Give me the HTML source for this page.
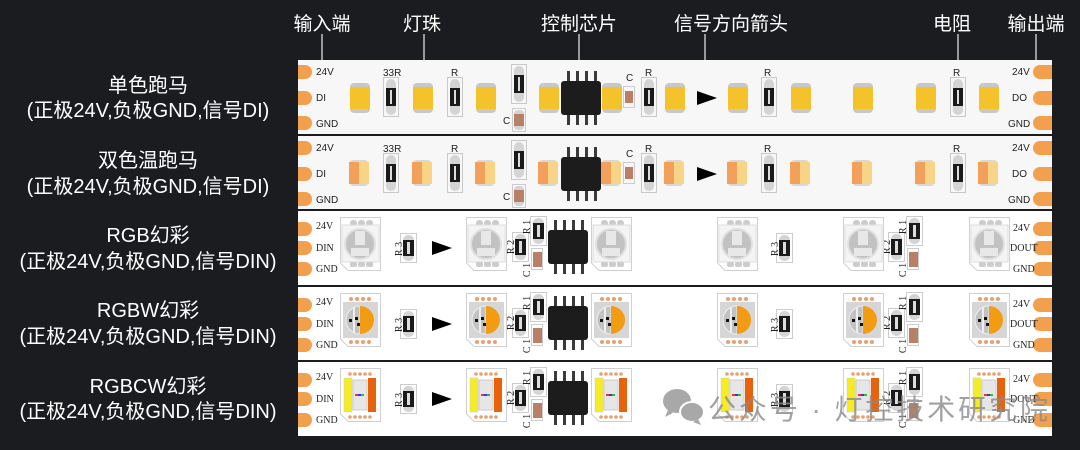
<!DOCTYPE html>
<html><head><meta charset="utf-8"><style>
html,body{margin:0;padding:0;background:#1b1c20;}
svg{display:block}
.lab{font-family:"Liberation Sans","Noto Sans CJK SC",sans-serif;fill:#fff;}
.sm{font-family:"Liberation Sans",sans-serif;font-size:10px;fill:#222;}
.ser{font-family:"Liberation Serif",serif;font-size:10px;fill:#222;}
</style></head><body>
<svg width="1080" height="450" viewBox="0 0 1080 450" xmlns="http://www.w3.org/2000/svg">
<defs>
 <g id="ledY"><rect width="20" height="30" rx="4" fill="#c8c8c8"/><rect y="4" width="20" height="22" fill="#f4c22b"/></g>
 <g id="ledW"><rect x="1" y="2" width="18" height="26" rx="3" fill="#d8d8d8"/><rect y="4" width="10" height="22" fill="#f2a05a"/><rect x="10" y="4" width="10" height="22" fill="#f8d486"/></g>
 <g id="res"><rect x="0.5" y="0.5" width="15" height="39" fill="none" stroke="#c8c8c8"/><rect x="3" y="2" width="10" height="36" rx="5" fill="#d4d4d4"/><rect x="3" y="11" width="10" height="18" fill="#1a1a1a"/><rect x="7" y="13" width="2" height="14" fill="#ddd"/></g>
 <g id="cap"><rect x="0.5" y="0.5" width="13" height="23" fill="none" stroke="#ccc"/><rect x="2" y="2" width="10" height="20" rx="4" fill="#d4d4d4"/><rect x="2" y="6" width="10" height="12" fill="#b98068"/></g>
 <g id="capS"><rect x="0.5" y="0.5" width="11" height="21" fill="none" stroke="#ccc"/><rect x="2" y="5" width="8" height="12" fill="#b98068"/></g>
 <g id="ic"><rect x="6" y="0" width="3" height="54" fill="#3a3a3a"/><rect x="15" y="0" width="3" height="54" fill="#3a3a3a"/><rect x="24" y="0" width="3" height="54" fill="#3a3a3a"/><rect x="33" y="0" width="3" height="54" fill="#3a3a3a"/><rect x="0" y="10" width="40" height="34" rx="3" fill="#1c1c1c"/></g>
 <g id="rs"><rect x="0.5" y="0.5" width="16" height="29" fill="none" stroke="#ccc"/><rect x="3" y="2" width="11" height="26" rx="5" fill="#d4d4d4"/><rect x="3" y="7" width="11" height="16" fill="#1a1a1a"/><rect x="7" y="9" width="3" height="12" fill="#ddd"/></g>
 <g id="pkg"><path d="M0.5 0.5H40.5V53.5H8L0.5 46Z" fill="#fff" stroke="#d0d0d0"/></g>
 <g id="rgb"><use href="#pkg"/><rect x="10" y="3" width="7" height="6" rx="3" fill="#ccc"/><rect x="18" y="3" width="7" height="6" rx="3" fill="#ccc"/><rect x="26" y="3" width="7" height="6" rx="3" fill="#ccc"/><rect x="2" y="8" width="37" height="37" fill="#f4f4f4" stroke="#ddd"/><circle cx="20" cy="27" r="15" fill="#c2c2c2" stroke="#e0e0e0" stroke-width="2"/><rect x="15" y="14" width="10" height="14" fill="#e8e8e8"/><rect x="11" y="31" width="18" height="8" fill="#e8e8e8"/><rect x="10" y="45" width="7" height="5" rx="2" fill="#ccc"/><rect x="18" y="45" width="7" height="5" rx="2" fill="#ccc"/><rect x="26" y="45" width="7" height="5" rx="2" fill="#ccc"/></g>
 <g id="rgbw"><use href="#pkg"/><g fill="#e8a070"><circle cx="11" cy="6" r="2"/><circle cx="17" cy="6" r="2"/><circle cx="23" cy="6" r="2"/><circle cx="29" cy="6" r="2"/><circle cx="11" cy="49" r="2"/><circle cx="17" cy="49" r="2"/><circle cx="23" cy="49" r="2"/><circle cx="29" cy="49" r="2"/></g><rect x="3" y="9" width="35" height="36" fill="#d6d6d6"/><path d="M20 13A14 14 0 0 0 20 41Z" fill="#c2c2c2" stroke="#eee"/><path d="M20 13A14 14 0 0 1 20 41Z" fill="#f29c14"/><rect x="13" y="14" width="2" height="26" fill="#eee"/><rect x="9" y="26" width="3" height="3" fill="#111"/><rect x="15" y="24" width="3" height="3" fill="#111"/><rect x="17" y="30" width="3" height="3" fill="#111"/></g>
 <g id="rgbcw"><use href="#pkg"/><g fill="#e8a070"><circle cx="10" cy="6" r="1.8"/><circle cx="15" cy="6" r="1.8"/><circle cx="20" cy="6" r="1.8"/><circle cx="25" cy="6" r="1.8"/><circle cx="30" cy="6" r="1.8"/><circle cx="10" cy="49" r="1.8"/><circle cx="15" cy="49" r="1.8"/><circle cx="20" cy="49" r="1.8"/><circle cx="25" cy="49" r="1.8"/><circle cx="30" cy="49" r="1.8"/></g><rect x="4" y="10" width="8" height="34" fill="#f6ec24" stroke="#ccc" stroke-width=".5"/><rect x="28" y="10" width="8" height="34" fill="#e8620c"/><rect x="13" y="12" width="14" height="30" fill="#e6e6e6" stroke="#ccc"/><rect x="15" y="26" width="3" height="2" fill="#e33"/><rect x="18" y="26" width="3" height="2" fill="#33f"/><rect x="21" y="26" width="3" height="2" fill="#3b3"/></g>
 <path id="arr" d="M0 0L20 7L0 14Z" fill="#000"/>
 <path id="padL" d="M0 0H7A7 7 0 0 1 7 14H0Z" fill="#f2a04e"/>
 <path id="padR" d="M19 0H7A7 7 0 0 0 7 14H19Z" fill="#f2a04e"/>
</defs>

<g class="lab" font-size="19">
<text x="322" y="30" text-anchor="middle">输入端</text>
<text x="422" y="30" text-anchor="middle">灯珠</text>
<text x="579" y="30" text-anchor="middle">控制芯片</text>
<text x="731" y="30" text-anchor="middle">信号方向箭头</text>
<text x="952" y="30" text-anchor="middle">电阻</text>
<text x="1036" y="30" text-anchor="middle">输出端</text>
</g>
<g stroke="#999" stroke-width="2" fill="#999">
<line x1="322" y1="34" x2="322" y2="65"/><circle cx="322" cy="66" r="3"/>
<line x1="424" y1="34" x2="424" y2="65"/><circle cx="424" cy="66" r="3"/>
<line x1="579" y1="34" x2="579" y2="65"/><circle cx="579" cy="66" r="3"/>
<line x1="705" y1="34" x2="705" y2="65"/><circle cx="705" cy="66" r="3"/>
<line x1="958" y1="34" x2="958" y2="65"/><circle cx="958" cy="66" r="3"/>
<line x1="1036" y1="34" x2="1036" y2="65"/><circle cx="1036" cy="66" r="3"/>
</g>

<g class="lab" font-size="20" text-anchor="middle">
<text x="148" y="92">单色跑马</text><text x="148" y="117">(正极24V,负极GND,信号DI)</text>
<text x="148" y="167">双色温跑马</text><text x="148" y="193">(正极24V,负极GND,信号DI)</text>
<text x="148" y="242">RGB幻彩</text><text x="148" y="268">(正极24V,负极GND,信号DIN)</text>
<text x="148" y="317">RGBW幻彩</text><text x="148" y="343">(正极24V,负极GND,信号DIN)</text>
<text x="148" y="393">RGBCW幻彩</text><text x="148" y="418">(正极24V,负极GND,信号DIN)</text>
</g>

<rect x="298" y="60" width="754" height="74" fill="#f6f7f6"/>
<rect x="298" y="136" width="754" height="73" fill="#f6f7f6"/>
<rect x="298" y="211" width="754" height="74" fill="#fff"/>
<rect x="298" y="287" width="754" height="73" fill="#fff"/>
<rect x="298" y="362" width="754" height="74" fill="#fff"/>

<g id="s1">
<use href="#padL" x="298" y="65"/><use href="#padL" x="298" y="91"/><use href="#padL" x="298" y="116"/>
<text class="sm" x="316" y="75">24V</text><text class="sm" x="316" y="101">DI</text><text class="sm" x="316" y="127">GND</text>
<use href="#padR" x="1033" y="65"/><use href="#padR" x="1033" y="91"/><use href="#padR" x="1033" y="116"/>
<text class="sm" x="1012" y="75">24V</text><text class="sm" x="1012" y="101">DO</text><text class="sm" x="1008" y="127">GND</text>
<text class="sm" x="383" y="76">33R</text><use href="#res" x="383" y="77"/>
<text class="sm" x="451" y="76">R</text><use href="#res" x="447" y="77"/>
<use href="#res" x="511" y="64"/><use href="#cap" x="512" y="108"/><text class="sm" x="503" y="124">C</text>
<use href="#ic" x="561" y="71"/>
<text class="sm" x="626" y="81">C</text><use href="#capS" x="623" y="86"/>
<text class="sm" x="645" y="76">R</text><use href="#res" x="641" y="77"/>
<use href="#arr" x="697" y="91"/>
<text class="sm" x="764" y="76">R</text><use href="#res" x="761" y="77"/>
<text class="sm" x="953" y="76">R</text><use href="#res" x="950" y="77"/>
</g>
<g>
<use href="#ledY" x="350" y="83"/><use href="#ledY" x="413" y="83"/><use href="#ledY" x="476" y="83"/><use href="#ledY" x="539" y="83"/><use href="#ledY" x="602" y="83"/><use href="#ledY" x="665" y="83"/><use href="#ledY" x="728" y="83"/><use href="#ledY" x="791" y="83"/><use href="#ledY" x="853" y="83"/><use href="#ledY" x="916" y="83"/><use href="#ledY" x="979" y="83"/>
</g>
<use href="#s1" y="76"/>
<g>
<use href="#ledW" x="349" y="158"/><use href="#ledW" x="412" y="158"/><use href="#ledW" x="475" y="158"/><use href="#ledW" x="538" y="158"/><use href="#ledW" x="601" y="158"/><use href="#ledW" x="664" y="158"/><use href="#ledW" x="727" y="158"/><use href="#ledW" x="790" y="158"/><use href="#ledW" x="852" y="158"/><use href="#ledW" x="915" y="158"/><use href="#ledW" x="978" y="158"/>
</g>

<g id="s3">
<use href="#padL" x="298" y="222"/><use href="#padL" x="298" y="241"/><use href="#padL" x="298" y="262"/>
<text class="ser" x="316" y="229">24V</text><text class="ser" x="316" y="251">DIN</text><text class="ser" x="316" y="272">GND</text>
<use href="#padR" x="1033" y="222"/><use href="#padR" x="1033" y="241"/><use href="#padR" x="1033" y="262"/>
<text class="ser" x="1013" y="231">24V</text><text class="ser" x="1010" y="251">DOUT</text><text class="ser" x="1013" y="272">GND</text>
<use href="#rs" x="400" y="233"/><text class="ser" transform="translate(402,249) rotate(-90)" text-anchor="middle">R 3</text>
<use href="#arr" x="432" y="241"/>
<use href="#rs" x="512" y="232"/><text class="ser" transform="translate(514,247) rotate(-90)" text-anchor="middle">R 2</text>
<use href="#rs" x="530" y="216"/><text class="ser" transform="translate(530,227) rotate(-90)" text-anchor="middle">R 1</text>
<use href="#capS" x="531" y="248"/><rect x="533" y="252" width="9" height="15" fill="#b98068"/><text class="ser" transform="translate(530,270) rotate(-90)" text-anchor="middle">C 1</text>
<use href="#ic" x="548" y="220"/>
<use href="#rs" x="776" y="233"/><text class="ser" transform="translate(778,249) rotate(-90)" text-anchor="middle">R 3</text>
<use href="#rs" x="888" y="232"/><text class="ser" transform="translate(890,247) rotate(-90)" text-anchor="middle">R 2</text>
<use href="#rs" x="906" y="216"/><text class="ser" transform="translate(906,227) rotate(-90)" text-anchor="middle">R 1</text>
<use href="#capS" x="907" y="248"/><rect x="909" y="252" width="9" height="15" fill="#b98068"/><text class="ser" transform="translate(906,270) rotate(-90)" text-anchor="middle">C 1</text>
</g>
<use href="#s3" y="76"/>
<use href="#s3" y="151"/>
<g>
<use href="#rgb" x="340" y="217"/><use href="#rgb" x="466" y="217"/><use href="#rgb" x="591" y="217"/><use href="#rgb" x="717" y="217"/><use href="#rgb" x="843" y="217"/><use href="#rgb" x="969" y="217"/>
<use href="#rgbw" x="340" y="293"/><use href="#rgbw" x="466" y="293"/><use href="#rgbw" x="591" y="293"/><use href="#rgbw" x="717" y="293"/><use href="#rgbw" x="843" y="293"/><use href="#rgbw" x="969" y="293"/>
<use href="#rgbcw" x="340" y="368"/><use href="#rgbcw" x="466" y="368"/><use href="#rgbcw" x="591" y="368"/><use href="#rgbcw" x="717" y="368"/><use href="#rgbcw" x="843" y="368"/><use href="#rgbcw" x="969" y="368"/>
</g>

<g fill="#9a9a9a" opacity="0.85">
<ellipse cx="677" cy="401" rx="14" ry="12"/><path d="M668 410l-3 7 8-4z"/>
<ellipse cx="692" cy="412" rx="12" ry="10" stroke="#fff" stroke-width="2"/><path d="M698 419l3 6-8-3z"/>
</g>
<text x="708" y="419" font-family="'Liberation Sans','Noto Sans CJK SC',sans-serif" font-size="28" fill="#8a8a8a" opacity="0.8" textLength="340">公众号 · 灯控技术研究院</text>
</svg>
</body></html>
